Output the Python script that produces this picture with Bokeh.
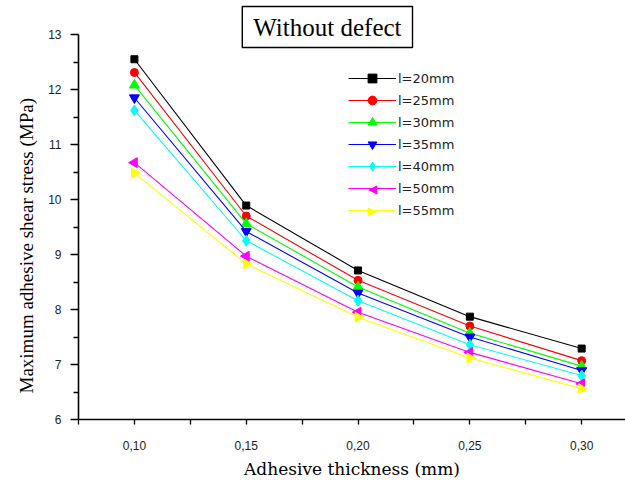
import math
from bokeh.plotting import figure
from bokeh.models import (Range1d, FixedTicker, Label, Legend, LegendItem, ColumnDataSource, Title)
from bokeh.embed import file_html
from bokeh.resources import INLINE

thickness = [0.10, 0.15, 0.20, 0.25, 0.30]
tick_labels = ["0,10", "0,15", "0,20", "0,25", "0,30"]
series_names = ["l=20mm", "l=25mm", "l=30mm", "l=35mm", "l=40mm", "l=50mm", "l=55mm"]
l20 = [12.55, 9.89, 8.71, 7.87, 7.29]
l25 = [12.31, 9.70, 8.53, 7.70, 7.07]
l30 = [12.08, 9.56, 8.41, 7.57, 6.97]
l35 = [11.85, 9.42, 8.30, 7.50, 6.89]
l40 = [11.62, 9.25, 8.16, 7.36, 6.80]
l50 = [10.67, 8.97, 7.95, 7.22, 6.65]
l55 = [10.48, 8.83, 7.86, 7.12, 6.56]
series_values = [l20, l25, l30, l35, l40, l50, l55]

colors = ["#000000", "#FF0000", "#00FF00", "#0000FF", "#00FFFF", "#FF00FF", "#FFFF00"]
markers = ["square", "circle", "triangle", "inverted_triangle", "diamond", "triangle", "triangle"]
angles = [0, 0, 0, 0, 0, math.pi / 2, -math.pi / 2]
legend_symbols = [None, None, None, None, None, "\u25C0", "\u25B6"]
sizes = [7, 8, 10, 10, 11, 10, 10]

p = figure(width=625, height=481, output_backend="svg", toolbar_location=None,
           x_range=Range1d(0.075, 0.3196), y_range=Range1d(6, 13 + 34 / 55.0),
           min_border_left=78, min_border_right=0, min_border_top=0, min_border_bottom=62)
p.outline_line_color = None
p.xgrid.grid_line_color = None
p.ygrid.grid_line_color = None

# legend layout (screen px, relative to frame bottom-left)
LEG_X, LEG_Y, ROW_H, GLYPH_W = 270, 198, 22, 48
n_items = len(series_names)

items = []
for i, (name, vals, c, m, a, s, sym) in enumerate(
        zip(series_names, series_values, colors, markers, angles, sizes, legend_symbols)):
    src = ColumnDataSource(dict(x=thickness, y=vals))
    ln = p.line("x", "y", source=src, line_color=c, line_width=1.1)
    sc = p.scatter("x", "y", source=src, marker=m, size=s, angle=a, fill_color=c, line_color=c)
    if sym is None:
        items.append(LegendItem(label=name, renderers=[ln, sc]))
    else:
        items.append(LegendItem(label=name, renderers=[ln]))
        p.add_layout(Label(x=LEG_X + GLYPH_W / 2, y=LEG_Y + ROW_H * (n_items - i) - ROW_H / 2,
                           x_units="screen", y_units="screen", text=sym,
                           text_align="center", text_baseline="middle",
                           text_font="DejaVu Sans", text_font_size="12px", text_color=c))

legend = Legend(items=items, location=(LEG_X, LEG_Y), padding=0, margin=0, spacing=0,
                glyph_width=GLYPH_W, glyph_height=ROW_H, label_height=ROW_H, label_standoff=2,
                border_line_color=None, background_fill_alpha=0,
                label_text_font="DejaVu Sans", label_text_font_size="13px",
                label_text_color="#222222")
p.add_layout(legend, "center")

# axes
p.xaxis.ticker = FixedTicker(ticks=thickness, minor_ticks=[0.075, 0.125, 0.175, 0.225, 0.275])
p.xaxis.major_label_overrides = {t: l for t, l in zip(thickness, tick_labels)}
p.yaxis.ticker = FixedTicker(ticks=[6, 7, 8, 9, 10, 11, 12, 13],
                             minor_ticks=[6.5, 7.5, 8.5, 9.5, 10.5, 11.5, 12.5])
p.yaxis.bounds = (6, 13)
for ax in (p.xaxis[0], p.yaxis[0]):
    ax.axis_line_width = 1.6
    ax.axis_line_color = "black"
    ax.major_tick_line_color = "black"
    ax.minor_tick_line_color = "black"
    ax.major_tick_line_width = 1.3
    ax.minor_tick_line_width = 1.3
    ax.major_tick_in = 0
    ax.minor_tick_in = 0
    ax.major_label_text_font = "Liberation Sans"
    ax.major_label_text_font_size = "12px"
    ax.major_label_text_color = "#222222"
    ax.axis_label_text_font_style = "normal"
    ax.axis_label_text_color = "black"

p.xaxis.major_tick_out = 5
p.xaxis.minor_tick_out = 5
p.xaxis.major_label_standoff = 16
p.xaxis.axis_label = "Adhesive thickness (mm)"
p.xaxis.axis_label_text_font = "DejaVu Serif"
p.xaxis.axis_label_text_font_size = "17px"
p.xaxis.axis_label_standoff = 6

p.yaxis.major_tick_out = 8
p.yaxis.minor_tick_out = 5
p.yaxis.major_label_standoff = 9

ytitle = Title(text="Maximum adhesive shear stress (MPa)", align="left", offset=26,
               text_font="Liberation Serif", text_font_size="19px",
               text_font_style="normal", text_color="black", standoff=18)
p.add_layout(ytitle, "left")

title = Label(x=0.1863, y=13.136, text="Without defect", text_align="center",
              text_baseline="middle", text_font="Liberation Serif", text_font_size="25px",
              text_color="black", border_line_color="black", border_line_width=1.4,
              background_fill_color="white",
              padding=dict(left=11, right=11, top=7, bottom=7))
p.add_layout(title)

open("out.html", "w").write(file_html(p, INLINE))
